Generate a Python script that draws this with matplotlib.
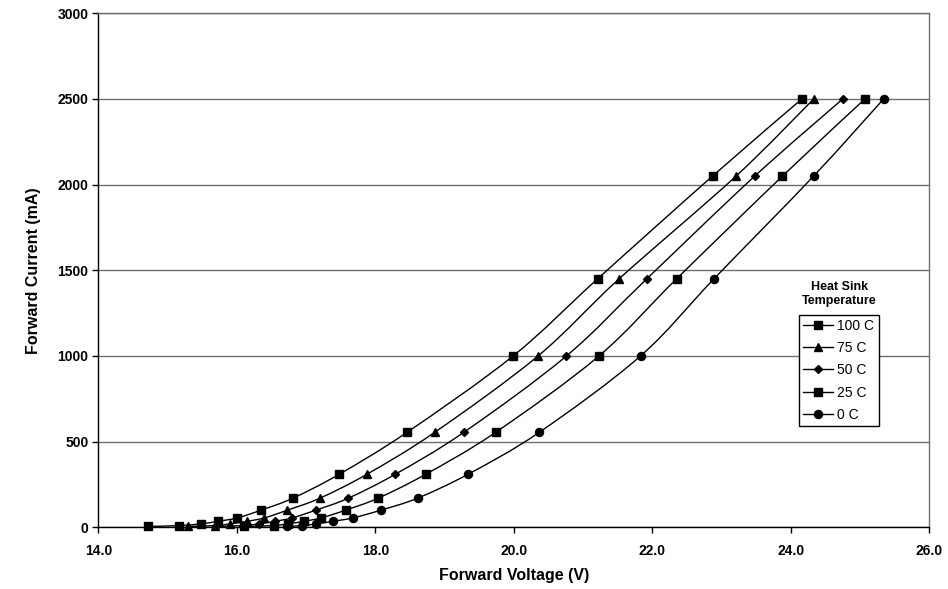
import matplotlib
matplotlib.use("Agg")
from matplotlib import pyplot as plt
from matplotlib.ticker import MultipleLocator, FormatStrFormatter
from matplotlib.path import Path
from matplotlib.patches import PathPatch
from matplotlib.lines import Line2D

plt.rcParams['font.family'] = ['Liberation Sans', 'DejaVu Sans']

# forward current (mA) at each measured point
current = [5, 10, 20, 35, 55, 100, 170, 310, 555, 1000, 1450, 2050, 2500]

# forward voltage (V) per heat sink temperature
v_100 = [14.72, 15.17, 15.48, 15.73, 16.01, 16.35, 16.81, 17.48, 18.46, 19.99, 21.21, 22.87, 24.16]
v_75 = [15.30, 15.69, 15.90, 16.15, 16.40, 16.73, 17.20, 17.88, 18.86, 20.35, 21.52, 23.21, 24.33]
v_50 = [15.70, 16.09, 16.32, 16.55, 16.80, 17.14, 17.61, 18.29, 19.28, 20.76, 21.92, 23.48, 24.75]
v_25 = [16.10, 16.53, 16.74, 16.97, 17.22, 17.57, 18.04, 18.73, 19.74, 21.23, 22.35, 23.88, 25.07]
v_0 = [16.72, 16.94, 17.15, 17.39, 17.68, 18.08, 18.61, 19.34, 20.37, 21.83, 22.89, 24.33, 25.34]

labels = ["100 C", "75 C", "50 C", "25 C", "0 C"]
markers = ["s", "^", "D", "s", "o"]
sizes = [5.8, 5.8, 4.0, 5.8, 5.8]


def smooth_path(xs, ys):
    # bezier path through the points, like a spreadsheet "smoothed line"
    pts = list(zip(xs, ys))
    verts = [pts[0]]
    codes = [Path.MOVETO]
    n = len(pts)
    for i in range(n - 1):
        p0 = pts[i - 1] if i > 0 else pts[i]
        p1 = pts[i]
        p2 = pts[i + 1]
        p3 = pts[i + 2] if i + 2 < n else pts[i + 1]
        c1 = (p1[0] + (p2[0] - p0[0]) / 6, p1[1] + (p2[1] - p0[1]) / 6)
        c2 = (p2[0] - (p3[0] - p1[0]) / 6, p2[1] - (p3[1] - p1[1]) / 6)
        verts += [c1, c2, p2]
        codes += [Path.CURVE4] * 3
    return Path(verts, codes)


fig = plt.figure(figsize=(9.48, 5.89), dpi=100)
ax = fig.add_axes([98.3 / 948, 1 - 527.3 / 589, 831 / 948, 514 / 589])

handles = []
for volts, lab, mk, ms in zip([v_100, v_75, v_50, v_25, v_0], labels, markers, sizes):
    ax.add_patch(PathPatch(smooth_path(volts, current), facecolor="none",
                           edgecolor="black", lw=1.0, zorder=3))
    ax.plot(volts, current, ls="none", marker=mk, ms=ms, mfc="black",
            mec="black", clip_on=False, zorder=4)
    handles.append(Line2D([], [], color="black", lw=1.0, marker=mk, ms=ms,
                          mfc="black", mec="black", label=lab))

ax.set_xlim(14, 26)
ax.set_ylim(0, 3000)
ax.xaxis.set_major_locator(MultipleLocator(2))
ax.yaxis.set_major_locator(MultipleLocator(500))
ax.xaxis.set_major_formatter(FormatStrFormatter("%.1f"))

grid_col = "#6e6e6e"
ax.grid(axis="y", color=grid_col, lw=1.0)
ax.set_axisbelow(True)
for s in ["top", "right"]:
    ax.spines[s].set_color(grid_col)
    ax.spines[s].set_linewidth(1.0)
for s in ["left", "bottom"]:
    ax.spines[s].set_color("black")
    ax.spines[s].set_linewidth(1.0)

ax.tick_params(axis="x", direction="out", length=4, width=1, pad=8, labelsize=10)
ax.tick_params(axis="y", direction="out", length=4, width=1, pad=3, labelsize=10)
for t in ax.get_xticklabels() + ax.get_yticklabels():
    t.set_fontweight("bold")

ax.set_xlabel("Forward Voltage (V)", fontsize=11.5, fontweight="bold", labelpad=7)
ax.set_ylabel("Forward Current (mA)", fontsize=11.5, fontweight="bold", labelpad=12)

fig.text(839.5 / 948, 1 - 294 / 589, "Heat Sink\nTemperature", ha="center", va="center",
         fontsize=9, fontweight="bold", linespacing=1.15,
         bbox=dict(facecolor="white", edgecolor="none", pad=1))

leg = ax.legend(handles=handles, loc="upper left", bbox_to_anchor=(799.3 / 948, 1 - 314.5 / 589),
                bbox_transform=fig.transFigure, borderaxespad=0, frameon=True,
                fancybox=False, framealpha=1, edgecolor="black", fontsize=10,
                handlelength=2.15, handletextpad=0.3, labelspacing=0.6, borderpad=0.3)
leg.get_frame().set_linewidth(1.0)

fig.savefig("out.png", dpi=100)
